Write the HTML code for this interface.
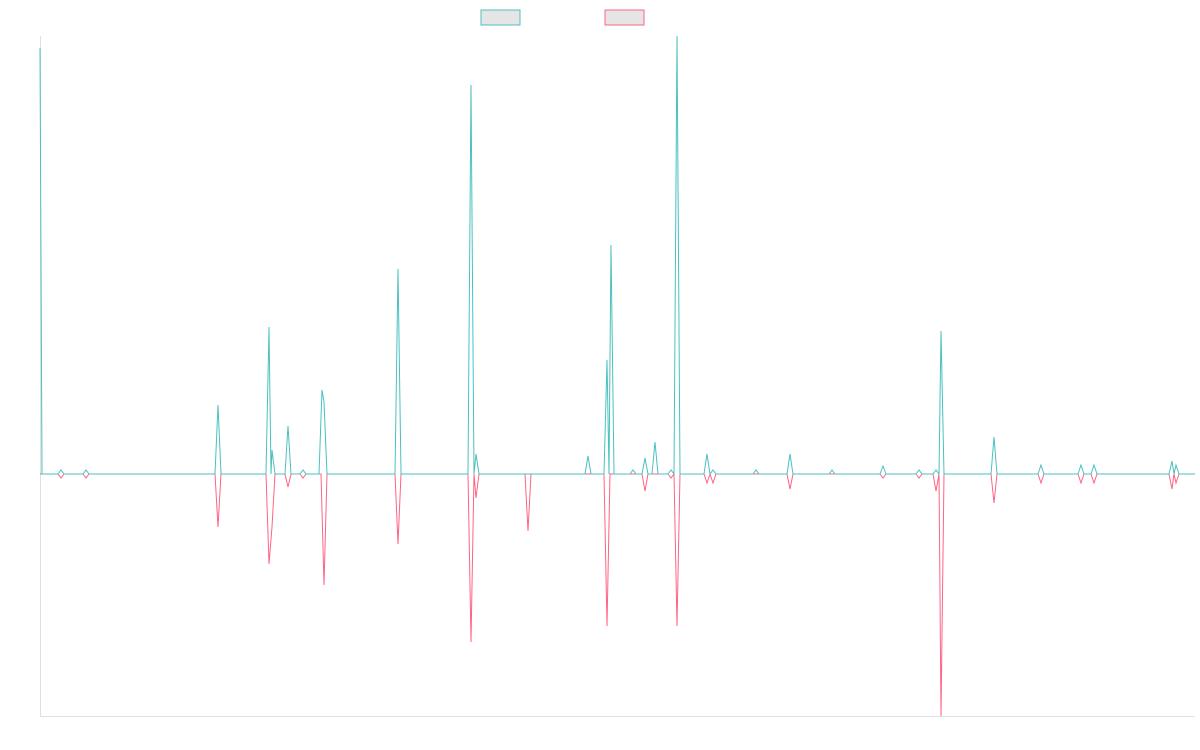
<!DOCTYPE html>
<html><head><meta charset="utf-8"><style>html,body{margin:0;padding:0;background:#fff;width:1200px;height:750px;overflow:hidden;font-family:"Liberation Sans",sans-serif}</style></head>
<body>
<svg width="1200" height="750" viewBox="0 0 1200 750" xmlns="http://www.w3.org/2000/svg">
<rect x="481" y="10" width="39" height="15" fill="#e5e5e5" stroke="#4bc0c0" stroke-width="1"/>
<rect x="605" y="10" width="39" height="15" fill="#e5e5e5" stroke="#ff6384" stroke-width="1"/>
<line x1="40.5" y1="36" x2="40.5" y2="716" stroke="#e0e0e0"/>
<line x1="40" y1="716.5" x2="1195" y2="716.5" stroke="#e0e0e0"/>
<path id="pk" fill="none" stroke="#ff6384" stroke-width="1" d="M40,474
L58,474 L61,478 L64,474 L83,474 L86,478 L89,474 L215,474 L218,527 L221,474 L266,474 L269,564 L272,527 L275,474 L285,474 L288,487 L291,474 L300,474 L303,478 L306,474 L321,474 L324,585 L327,474 L395,474 L398,544 L401,474 L468,474 L471,642 L474,474 L476,498 L479,474 L525,474 L528,531 L531,474 L604,474 L607,626 L610,474 L642,474 L645,491 L648,474 L668,474 L671,478 L674,474 L677,626 L680,474 L704,474 L707,483 L710,474 L713,483 L716,474 L787,474 L790,489 L793,474 L880,474 L883,478 L886,474 L916,474 L919,478 L922,474 L933,474 L936,491 L939,474 L941,716 L944,474 L991,474 L994,503 L997,474 L1038,474 L1041,483 L1044,474 L1078,474 L1081,483 L1084,474 L1091,474 L1094,483 L1097,474 L1169,474 L1172,489 L1174,474 L1176,483 L1179,474 L1195,474"/>
<path fill="none" stroke="#4bc0c0" stroke-width="1" d="M40,48 L42,474
L58,474 L61,470 L64,474 L83,474 L86,470 L89,474 L215,474 L218,405 L221,474 L266,474 L269,327 L271,474 L272,450 L275,474 L285,474 L288,426 L291,474 L300,474 L303,470 L306,474 L319,474 L322,390 L324,402 L327,474 L395,474 L398,269 L401,474 L468,474 L471,85 L474,474 L476,454 L479,474 L585,474 L588,456 L591,474 L604,474 L607,360 L609,474 L611,245 L614,474 L630,474 L633,470 L636,474 L642,474 L645,458 L648,474 L652,474 L655,442 L658,474 L668,474 L671,470 L674,474 L677,36 L680,474 L704,474 L707,454 L710,474 L713,470 L716,474 L753,474 L756,470 L759,474 L787,474 L790,454 L793,474 L829,474 L832,470 L835,474 L880,474 L883,466 L886,474 L916,474 L919,470 L922,474 L933,474 L936,470 L939,474 L941,331 L944,474 L991,474 L994,437 L997,474 L1038,474 L1041,465 L1044,474 L1078,474 L1081,465 L1084,474 L1091,474 L1094,465 L1097,474 L1169,474 L1172,461 L1174,474 L1176,465 L1179,474 L1195,474"/>
</svg>
</body></html>
